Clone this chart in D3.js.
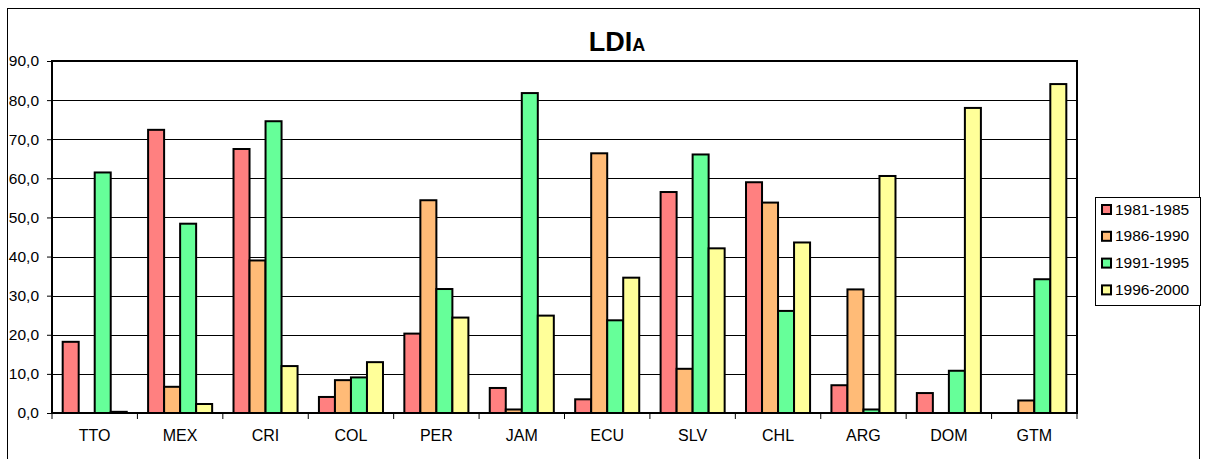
<!DOCTYPE html>
<html><head><meta charset="utf-8">
<script src="https://cdn.jsdelivr.net/npm/d3@7"></script>
<style>body{margin:0;background:#fff}svg{display:block;font-family:"Liberation Sans",Arial,sans-serif}</style>
</head><body><svg id="c" width="1207" height="459"></svg>
<script>
const categories = ["TTO","MEX","CRI","COL","PER","JAM","ECU","SLV","CHL","ARG","DOM","GTM"];
const seriesNames = ["1981-1985","1986-1990","1991-1995","1996-2000"];
const s1981 = [18.2,72.4,67.5,4.1,20.3,6.4,3.5,56.5,59.0,7.1,5.1,0];
const s1986 = [0,6.7,39.0,8.4,54.4,0.9,66.4,11.3,53.8,31.6,0,3.2];
const s1991 = [61.5,48.4,74.6,9.1,31.7,81.8,23.7,66.1,26.1,0.9,10.8,34.2];
const s1996 = [0.3,2.3,12.0,13.0,24.4,24.9,34.6,42.1,43.6,60.6,78.0,84.1];
const yTicks = [0,10,20,30,40,50,60,70,80,90];
const colors = ["#FF8080","#FFBB77","#66FF99","#FFFF99"];
const seriesValues = [s1981,s1986,s1991,s1996];

const svg = d3.select("#c");
const L=52,R=1077,T=61,B=413;
svg.append("rect").attr("x",7.5).attr("y",8.5).attr("width",1192).attr("height",470).attr("fill","none").attr("stroke","#000").attr("stroke-width",1);

const x = d3.scaleBand().domain(categories).range([L,R]).paddingInner(0).paddingOuter(0);
const inner = d3.scaleBand().domain(seriesNames).range([0,x.bandwidth()]).paddingInner(0).paddingOuter(0.667);
const y = d3.scaleLinear().domain([0,90]).range([B,T]);

// gridlines
svg.append("g").selectAll("line").data(yTicks.slice(1,-1)).join("line")
 .attr("x1",L).attr("x2",R).attr("y1",d=>Math.round(y(d))+0.5).attr("y2",d=>Math.round(y(d))+0.5)
 .attr("stroke","#000").attr("stroke-width",1);

// bars
const g = svg.append("g");
seriesValues.forEach((vals,si)=>{
  g.selectAll(null).data(vals.map((v,i)=>({c:categories[i],v}))).join("rect")
   .filter(d=>d.v>0)
   .attr("x",d=>x(d.c)+inner(seriesNames[si]))
   .attr("width",inner.bandwidth())
   .attr("y",d=>y(d.v))
   .attr("height",d=>B-y(d.v))
   .attr("fill",colors[si]).attr("stroke","#000").attr("stroke-width",2);
});

// plot frame
svg.append("rect").attr("x",L).attr("y",T).attr("width",R-L).attr("height",B-T).attr("fill","none").attr("stroke","#000").attr("stroke-width",2);

// y axis
const ya = svg.append("g").attr("transform",`translate(${L},0)`)
 .call(d3.axisLeft(y).tickValues(yTicks).tickSize(5).tickPadding(8).tickFormat(d=>d3.format(".1f")(d).replace(".",",")));
ya.select(".domain").remove();
ya.selectAll("text").attr("font-size",15.5).attr("font-family","Liberation Sans, Arial").attr("fill","#000");
ya.selectAll("line").attr("stroke","#000");

// x axis ticks at band boundaries
const bounds = categories.map(c=>x(c)).concat([R]);
svg.append("g").selectAll("line").data(bounds).join("line")
 .attr("x1",d=>d).attr("x2",d=>d).attr("y1",B).attr("y2",B+6).attr("stroke","#000").attr("stroke-width",1);
svg.append("g").selectAll("text").data(categories).join("text")
 .attr("x",d=>x(d)+x.bandwidth()/2).attr("y",441).attr("text-anchor","middle")
 .attr("font-size",16).attr("fill","#000").text(d=>d);

// title
const t = svg.append("text").attr("x",617).attr("y",51).attr("text-anchor","middle").attr("font-weight","bold");
t.append("tspan").attr("font-size",27).text("LDI");
t.append("tspan").attr("font-size",18).text("A");

// legend
const lg = svg.append("g");
lg.append("rect").attr("x",1095.5).attr("y",197.5).attr("width",105).attr("height",108).attr("fill","#fff").attr("stroke","#000").attr("stroke-width",1);
seriesNames.forEach((n,i)=>{
  const yy = 209+i*26.8;
  lg.append("rect").attr("x",1102).attr("y",yy-4).attr("width",9).attr("height",9).attr("fill",colors[i]).attr("stroke","#000").attr("stroke-width",2);
  lg.append("text").attr("x",1115).attr("y",yy+5.5).attr("font-size",15.5).attr("fill","#000").text(n);
});
</script></body></html>
